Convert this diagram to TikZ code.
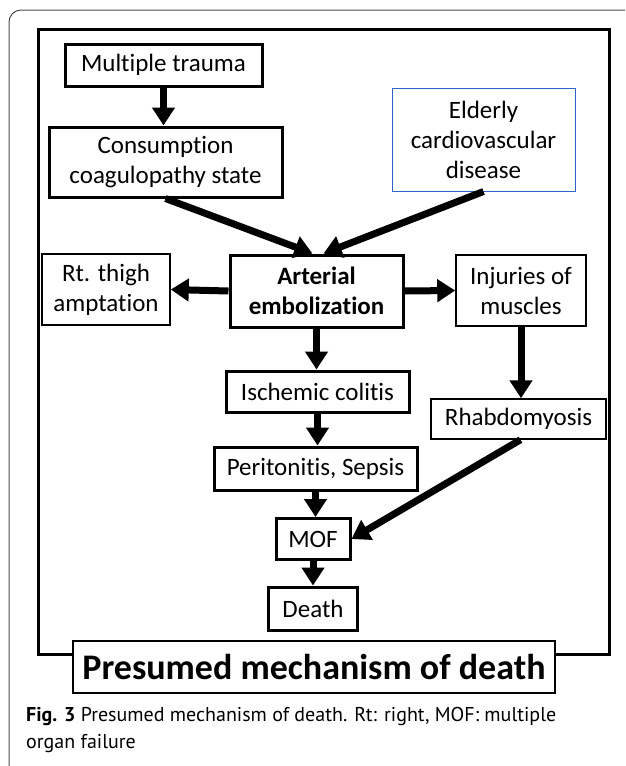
\documentclass[tikz,border=0pt]{standalone}
\usepackage{fontspec}
\setmainfont{Carlito}[Ligatures={NoCommon}]
\newfontfamily\capfont{PT Sans}
\usetikzlibrary{arrows.meta}
\definecolor{boxblue}{RGB}{46,100,200}

\begin{document}
\begin{tikzpicture}[
		x=1pt, y=-1pt,
		thickbox/.style={rectangle, draw=black, fill=white, line width=3pt, inner sep=0pt, align=center, font=\fontsize{25}{30}\selectfont},
		thinbox/.style={rectangle, draw=black, fill=white, line width=1.5pt, inner sep=0pt, align=center, font=\fontsize{25}{30}\selectfont},
		arr/.style={-{Triangle[length=18pt,width=22pt]}, line width=7pt},
	]
	\useasboundingbox (0,0) rectangle (625,766);
	\clip (0,0) rectangle (625,766);

	%Card and frame
	\draw[line width=1pt, draw=black!70, rounded corners=12pt] (9,10) rectangle (660,780);
	\draw[line width=3pt] (38,29) rectangle (609,654);

	%Nodes
	\node[thickbox, minimum width=197pt, minimum height=42pt]	(trauma)	at (163.5,65)	{Multiple trauma};
	\node[thickbox, minimum width=233pt, minimum height=70pt]	(consump)	at (165.5,162)	{Consumption\\coagulopathy state};
	\node[thinbox, draw=boxblue, line width=1pt, minimum width=183pt, minimum height=103pt]	(elderly)	at (483.5,139.5)	{Elderly\\cardiovascular\\disease};
	\node[thinbox, minimum width=128pt, minimum height=71pt]	(thigh)		at (106,289.5)	{Rt. thigh\\amptation};
	\node[thickbox, minimum width=173pt, minimum height=72pt, font=\fontsize{25}{30}\selectfont\bfseries]	(arterial)	at (316.5,291)	{Arterial\\embolization};
	\node[thinbox, minimum width=130pt, minimum height=71pt]	(injuries)	at (521,290.5)	{Injuries of\\muscles};
	\node[thickbox, minimum width=183pt, minimum height=41pt]	(ischemic)	at (317.5,391.5)	{Ischemic colitis};
	\node[thinbox, minimum width=175pt, minimum height=40pt]	(rhabdo)	at (518.5,419)	{Rhabdomyosis};
	\node[thickbox, minimum width=203pt, minimum height=43pt]	(perit)		at (315.5,468.5)	{Peritonitis, Sepsis};
	\node[thickbox, minimum width=74pt, minimum height=41pt]	(mof)		at (313,539)	{MOF};
	\node[thickbox, minimum width=89pt, minimum height=43pt]	(death)		at (313,608.5)	{Death};
	\node[thinbox, minimum width=482pt, minimum height=52pt, font=\fontsize{36}{42}\selectfont\bfseries]	(title)	at (314,667)	{Presumed mechanism of death};

	%Caption
	\node[anchor=north west, inner sep=0pt, align=left, font=\capfont\fontsize{20}{27}\selectfont]	(caption)	at (26,707)	{\textbf{Fig. 3} Presumed mechanism of death. Rt: right, MOF: multiple\\organ failure};

	%Lines
	\draw[arr]	(trauma.south) -- (trauma.south |- consump.north);
	\draw[arr]	(consump.south) -- ([xshift=-4pt]arterial.north);
	\draw[arr]	(elderly.south) -- ([xshift=7pt]arterial.north);
	\draw[arr]	(arterial.west) -- (thigh.east);
	\draw[arr]	(arterial.east) -- (injuries.west);
	\draw[arr]	(arterial.south) -- (arterial.south |- ischemic.north);
	\draw[arr]	(ischemic.south) -- (ischemic.south |- perit.north);
	\draw[arr]	(injuries.south) -- (injuries.south |- rhabdo.north);
	\draw[arr]	(perit.south) -- (perit.south |- mof.north);
	\draw[arr]	([xshift=2pt]rhabdo.south) -- (mof.east);
	\draw[arr]	(mof.south) -- (death.north);

\end{tikzpicture}
\end{document}
